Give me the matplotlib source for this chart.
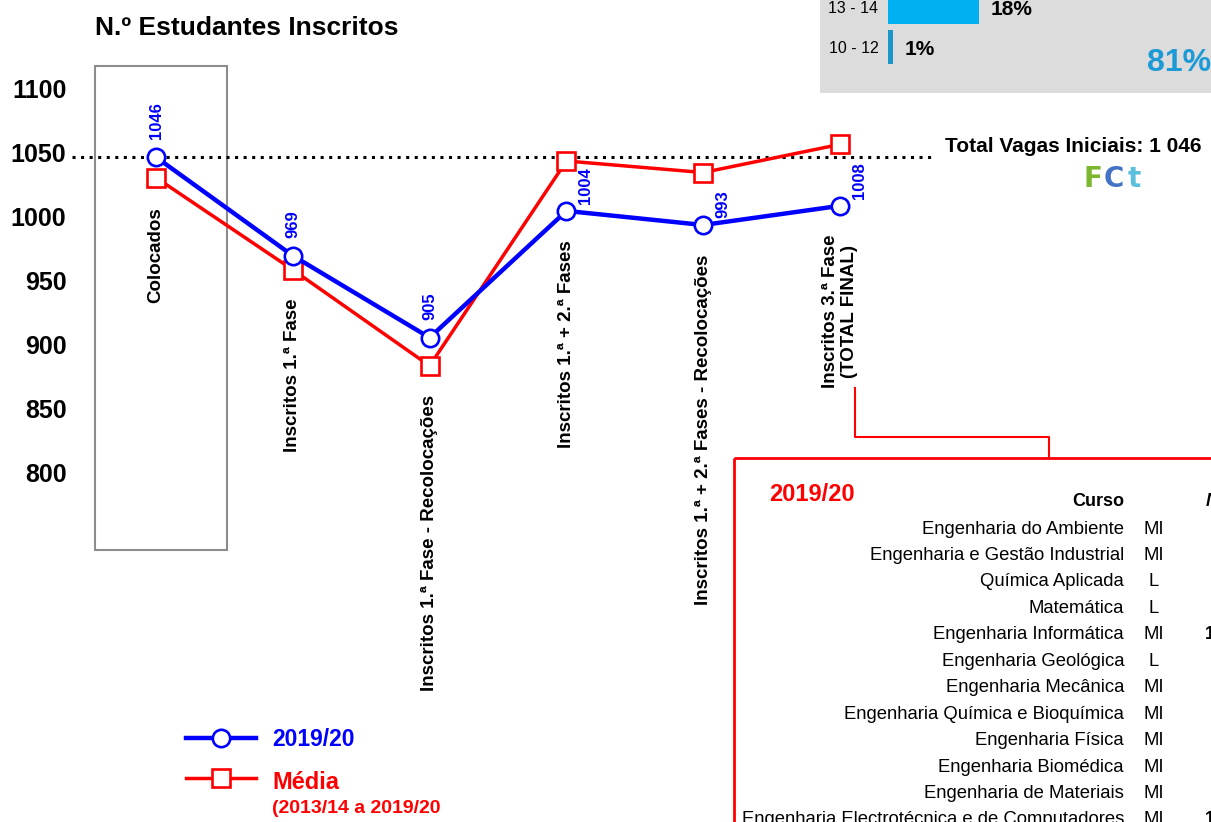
import matplotlib
matplotlib.use('Agg')
import matplotlib.pyplot as plt
from matplotlib.patches import Rectangle

plt.rcParams['font.family'] = ['Liberation Sans', 'DejaVu Sans']

# dados
fases = ['Colocados', 'Inscritos 1.ª Fase', 'Inscritos 1.ª Fase - Recolocações',
         'Inscritos 1.ª + 2.ª Fases', 'Inscritos 1.ª + 2.ª Fases - Recolocações',
         'Inscritos 3.ª Fase\n(TOTAL FINAL)']
ano_2019 = [1046, 969, 905, 1004, 993, 1008]
media = [1030, 958, 883, 1043, 1034, 1056]
vagas_iniciais = 1046

notas = ['10 - 12', '13 - 14']
notas_pct = [1, 18]
pct_total = '81%'

cursos = ['Engenharia do Ambiente', 'Engenharia e Gestão Industrial', 'Química Aplicada',
          'Matemática', 'Engenharia Informática', 'Engenharia Geológica',
          'Engenharia Mecânica', 'Engenharia Química e Bioquímica', 'Engenharia Física',
          'Engenharia Biomédica', 'Engenharia de Materiais',
          'Engenharia Electrotécnica e de Computadores']
tipos = ['MI', 'MI', 'L', 'L', 'MI', 'L', 'MI', 'MI', 'MI', 'MI', 'MI', 'MI']
parcial = ['', '', '', '', '1', '', '', '', '', '', '', '1']

W, H = 1211, 822
BLUE = '#0000ff'
RED = '#ff0000'

fig = plt.figure(figsize=(W / 100, H / 100), dpi=100)

# grafico principal
ax = fig.add_axes([72 / W, 0, (935 - 72) / W, (H - 60) / H])
ax.set_xlim(-0.614, 5.694)
ax.set_ylim(526.6, 1121.9)
for s in ax.spines.values():
    s.set_visible(False)
ax.set_xticks([])
ax.set_yticks([800, 850, 900, 950, 1000, 1050, 1100])
ax.tick_params(axis='y', length=0, pad=4, labelsize=18)
for t in ax.get_yticklabels():
    t.set_fontweight('bold')

x = list(range(len(fases)))
ax.add_patch(Rectangle((-0.446, 739.1), 0.965, 378.1, fill=False,
                       edgecolor='#8c8c8c', lw=1.5, zorder=1))
ax.axhline(vagas_iniciais, color='black', lw=2.2, ls=(0, (1, 1.8)), zorder=2)

ax.plot(x, ano_2019, color=BLUE, lw=3.2, marker='o', ms=12.5, mfc='white',
        mec=BLUE, mew=1.9, zorder=4)
ax.plot(x, media, color=RED, lw=2.5, marker='s', ms=13, mfc='white',
        mec=RED, mew=1.9, zorder=3)

for i, v in enumerate(ano_2019):
    dx, dy = (0, 13) if i < 3 else (14, 5)
    ax.annotate(str(v), (i, v), xytext=(dx, dy), textcoords='offset points',
                rotation=90, ha='center', va='bottom', color=BLUE,
                fontsize=12, fontweight='bold')

for i, f in enumerate(fases):
    low = min(ano_2019[i], media[i])
    ax.annotate(f, (i, low), xytext=(0, -21), textcoords='offset points',
                rotation=90, ha='center', va='top', fontsize=13.5,
                fontweight='bold', multialignment='center')

# camada em pixeis
ov = fig.add_axes([0, 0, 1, 1])
ov.set_xlim(0, W)
ov.set_ylim(H, 0)
ov.axis('off')

ov.text(95, 28, 'N.º Estudantes Inscritos', fontsize=19, fontweight='bold',
        ha='left', va='center')
ov.text(945, 146, 'Total Vagas Iniciais: 1 046', fontsize=15, fontweight='bold',
        ha='left', va='center')

for ch, cx, col in [('F', 1083, '#7cb82f'), ('C', 1104, '#4472c4'), ('t', 1128, '#5bc0de')]:
    ov.text(cx, 179, ch, fontsize=20, fontweight='bold', color=col,
            family='DejaVu Sans', ha='left', va='center')

# legenda
ov.plot([186, 256], [738, 738], color=BLUE, lw=3.2)
ov.plot([221], [738], marker='o', ms=12.5, mfc='white', mec=BLUE, mew=1.9)
ov.plot([186, 256], [778, 778], color=RED, lw=2.5)
ov.plot([221], [778], marker='s', ms=13, mfc='white', mec=RED, mew=1.9)
ov.text(272, 739, '2019/20', color=BLUE, fontsize=16.5, fontweight='bold', va='center')
ov.text(272, 782, 'Média', color=RED, fontsize=17, fontweight='bold', va='center')
ov.text(272, 808, '(2013/14 a 2019/20', color=RED, fontsize=14, fontweight='bold', va='center')

# painel cinzento
ov.add_patch(Rectangle((820, 0), 391, 93, facecolor='#dcdcdc', edgecolor='none'))
ov.text(1147, 63, pct_total, color='#1b9ad6', fontsize=23, fontweight='bold',
        ha='left', va='center')

# tabela
ov.add_patch(Rectangle((734, 458), 600, 500, fill=False, edgecolor=RED, lw=2))
ov.plot([855, 855, 1049, 1049], [388, 437, 437, 458], color=RED, lw=1.5)
ov.text(769, 494, '2019/20', color=RED, fontsize=17, fontweight='bold', va='center')
ov.text(1124, 501, 'Curso', fontsize=13, fontweight='bold', ha='right', va='center')
ov.text(1206, 501, 'N', fontsize=13, fontweight='bold', style='italic', ha='left', va='center')
for i, (c, t, p) in enumerate(zip(cursos, tipos, parcial)):
    yy = 529 + 26.45 * i
    ov.text(1124, yy, c, fontsize=13.3, ha='right', va='center')
    ov.text(1154, yy, t, fontsize=13.3, ha='center', va='center')
    if p:
        ov.text(1205, yy, p, fontsize=13, fontweight='bold', ha='left', va='center')

# barras das notas
bx = fig.add_axes([888 / W, (H - 93) / H, (W - 888) / W, 93 / H])
bx.patch.set_visible(False)
bx.barh(range(len(notas)), notas_pct, height=0.87, color=['#1a96c8', '#00b0f0'])
bx.set_xlim(0, 63.8)
# centro 10-12 em y=47 px, 13-14 em y=7 px (40 px por categoria)
bx.set_ylim(-(93 - 47) / 40, 1 + 7 / 40)
for s in bx.spines.values():
    s.set_visible(False)
bx.set_xticks([])
bx.set_yticks(range(len(notas)))
bx.set_yticklabels(notas)
bx.tick_params(axis='y', length=0, pad=7, labelsize=11.5)
for i, v in enumerate(notas_pct):
    bx.annotate(f'{v}%', (v, i), xytext=(8, -1.5), textcoords='offset points',
                fontsize=15, fontweight='bold', va='center', ha='left')

fig.savefig('out.png', dpi=100)
